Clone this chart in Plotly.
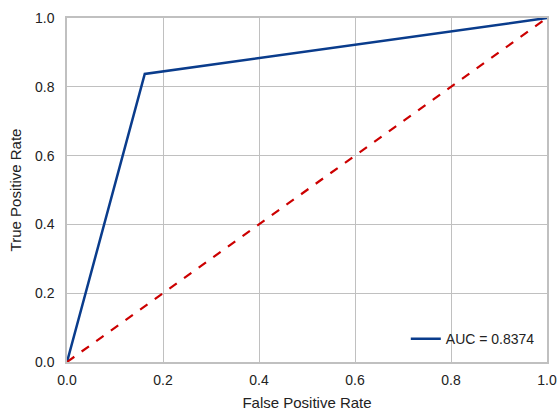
import plotly.graph_objects as go

fpr = [0.0, 0.162, 1.0]
tpr = [0.0, 0.8375, 1.0]
diag_x = [0.0, 1.0]
diag_y = [0.0, 1.0]
auc_label = "AUC = 0.8374"
tick_vals = [0.0, 0.2, 0.4, 0.6, 0.8, 1.0]
tick_text = ["0.0", "0.2", "0.4", "0.6", "0.8", "1.0"]

fig = go.Figure()
fig.add_trace(go.Scatter(x=fpr, y=tpr, mode="lines", name=auc_label,
                         line=dict(color="#0a3c8c", width=2.5)))
fig.add_trace(go.Scatter(x=diag_x, y=diag_y, mode="lines", showlegend=False,
                         line=dict(color="#cc0000", width=2.2, dash="dash")))

axis_common = dict(range=[0, 1], tickvals=tick_vals, ticktext=tick_text,
                   showgrid=True, gridcolor="#c0c0c0", gridwidth=1,
                   showline=True, linecolor="#c0c0c0", linewidth=1.5, mirror=True,
                   zeroline=False, ticks="", tickfont=dict(size=14, color="#222"),
                   title_font=dict(size=15, color="#222"), automargin=False)

fig.update_xaxes(title_text="False Positive Rate", title_standoff=11,
                 ticklabelstandoff=4, **axis_common)
fig.update_yaxes(title_text="True Positive Rate", title_standoff=10,
                 ticklabelstandoff=8, **axis_common)

fig.update_layout(
    width=559, height=416,
    margin=dict(l=67, r=12, t=18, b=54, autoexpand=False),
    plot_bgcolor="white", paper_bgcolor="white",
    font=dict(family="Liberation Sans, Arial, sans-serif", size=14, color="#222"),
    legend=dict(x=0.985, y=0.02, xanchor="right", yanchor="bottom",
                bgcolor="rgba(255,255,255,0)", borderwidth=0,
                font=dict(size=14)),
)

fig.write_html("out.html", config={"displayModeBar": False})

with open("out.html", "r", encoding="utf-8") as f:
    html = f.read()
html = html.replace("<body>", '<body style="margin:0;padding:0;">', 1)
with open("out.html", "w", encoding="utf-8") as f:
    f.write(html)
